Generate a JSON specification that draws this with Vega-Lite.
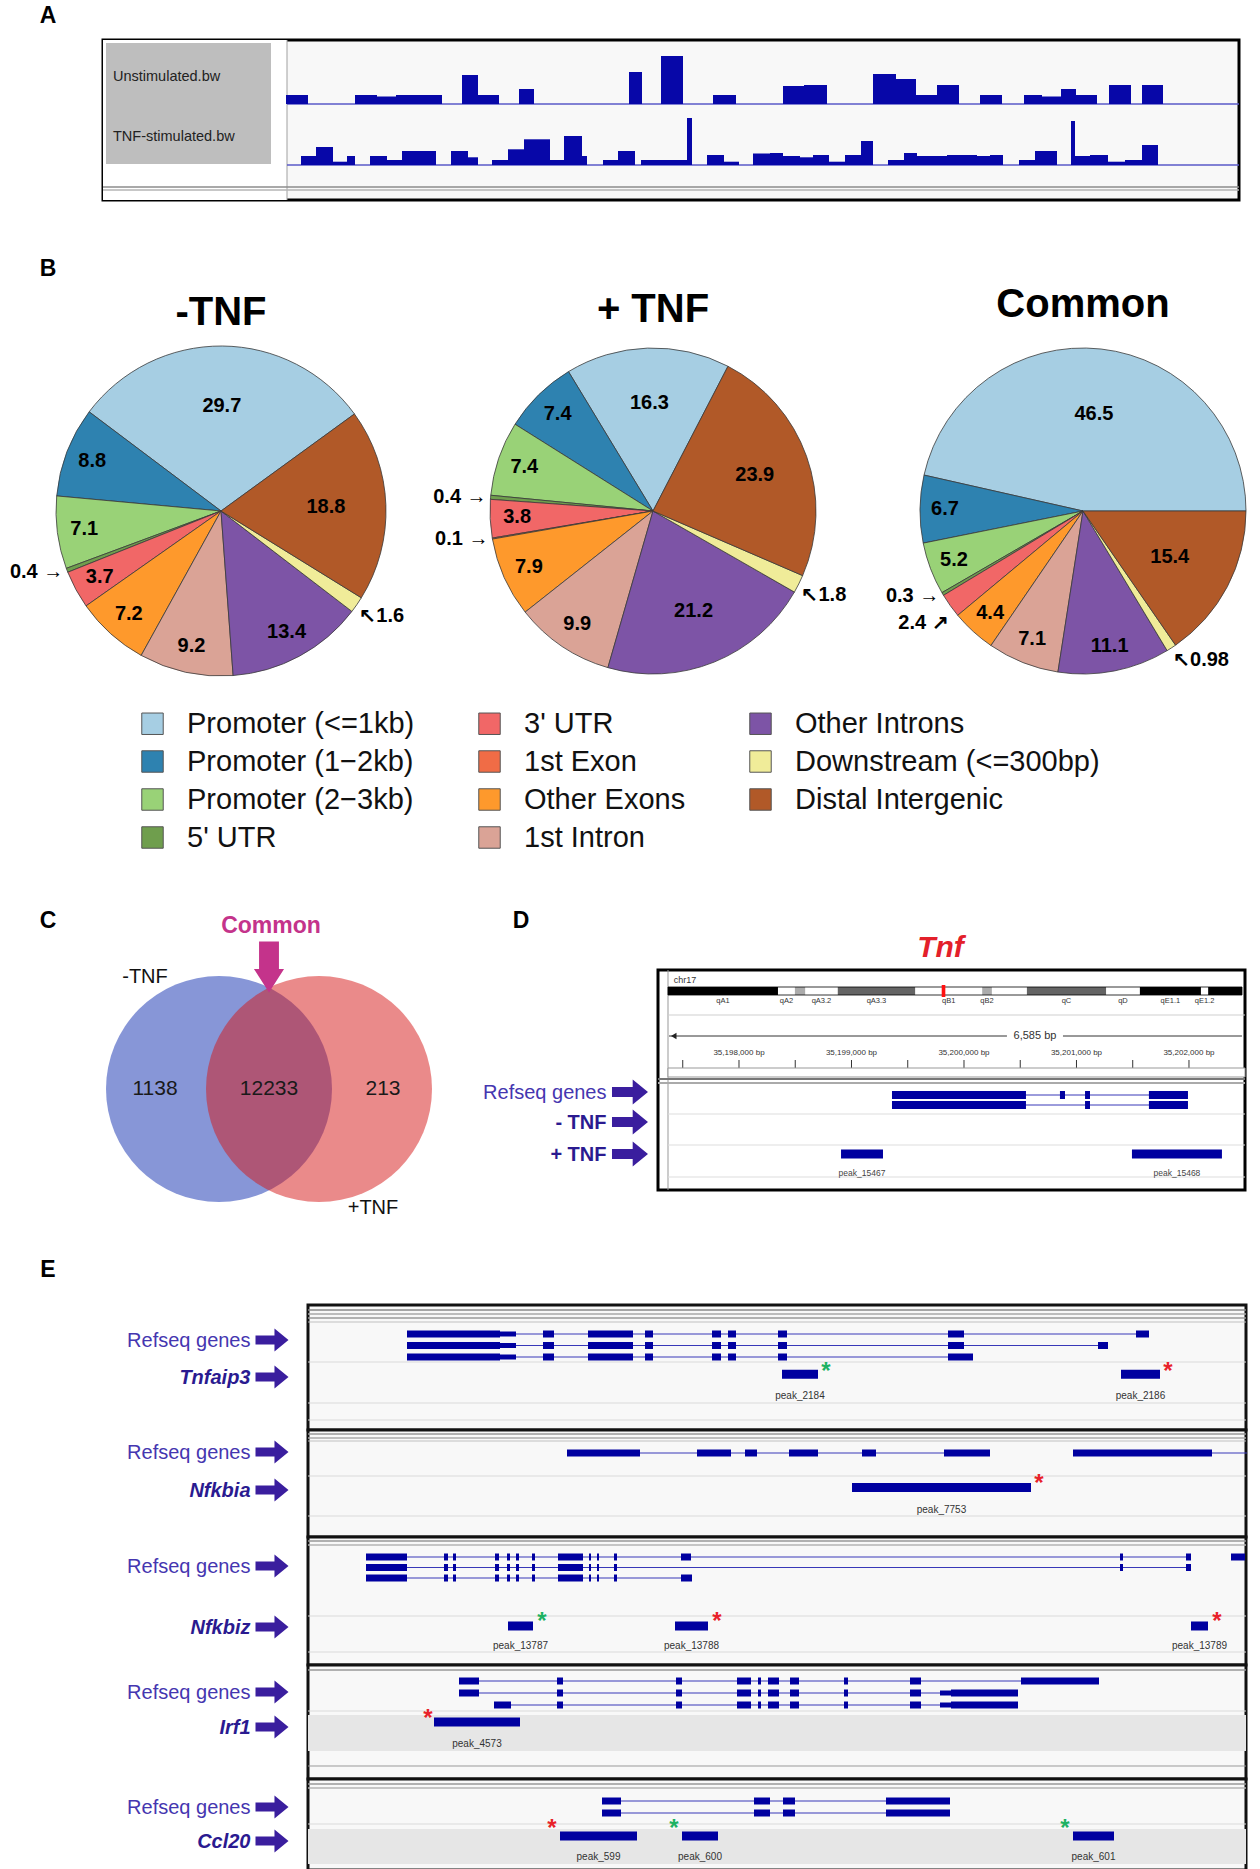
{
"$schema": "https://vega.github.io/schema/vega-lite/v6.json",
"padding": 0,
"background": "white",
"spacing": 0,
"config": {"view": {"stroke": null}, "font": "Liberation Sans", "axis": {"labelFont": "Liberation Sans"}, "legend": {"labelFont": "Liberation Sans"}, "title": {"font": "Liberation Sans"}, "text": {"font": "Liberation Sans"}},
"datasets": {
"one": [{}],
"tracks": [
{"t":"U","s":286,"e":308,"h":9},{"t":"U","s":355,"e":377,"h":9},{"t":"U","s":377,"e":396,"h":7.5},{"t":"U","s":396,"e":442,"h":9},{"t":"U","s":462,"e":478,"h":29},{"t":"U","s":478,"e":499,"h":9},{"t":"U","s":519,"e":534,"h":15},{"t":"U","s":629,"e":642,"h":32},{"t":"U","s":661,"e":683,"h":48},{"t":"U","s":713,"e":736,"h":9},{"t":"U","s":783,"e":804,"h":18},{"t":"U","s":804,"e":827,"h":19},{"t":"U","s":873,"e":896,"h":30},{"t":"U","s":896,"e":916,"h":25},{"t":"U","s":916,"e":937,"h":9},{"t":"U","s":937,"e":959,"h":19},{"t":"U","s":980,"e":1002,"h":9},{"t":"U","s":1024,"e":1042,"h":9},{"t":"U","s":1042,"e":1061,"h":7.5},{"t":"U","s":1061,"e":1076,"h":15},{"t":"U","s":1076,"e":1097,"h":9},{"t":"U","s":1109,"e":1131,"h":19},{"t":"U","s":1142,"e":1163,"h":19},
{"t":"T","s":301,"e":316,"h":9},{"t":"T","s":316,"e":333,"h":18},{"t":"T","s":333,"e":347,"h":3.3},{"t":"T","s":347,"e":355,"h":9},{"t":"T","s":370,"e":387,"h":9},{"t":"T","s":387,"e":402,"h":5},{"t":"T","s":402,"e":436,"h":14},{"t":"T","s":451,"e":468,"h":14},{"t":"T","s":468,"e":478,"h":7.7},{"t":"T","s":492,"e":508,"h":5},{"t":"T","s":508,"e":524,"h":15.7},{"t":"T","s":524,"e":550,"h":25.7},{"t":"T","s":550,"e":564,"h":5},{"t":"T","s":564,"e":582,"h":29},{"t":"T","s":582,"e":587,"h":9},{"t":"T","s":603,"e":618,"h":5},{"t":"T","s":618,"e":635,"h":14},{"t":"T","s":641,"e":687,"h":5},{"t":"T","s":687,"e":692,"h":47},{"t":"T","s":707,"e":724,"h":10},{"t":"T","s":724,"e":739,"h":3.3},{"t":"T","s":753,"e":770,"h":11.5},{"t":"T","s":770,"e":783,"h":12},{"t":"T","s":783,"e":800,"h":9},{"t":"T","s":800,"e":813,"h":7.7},{"t":"T","s":813,"e":829,"h":10},{"t":"T","s":829,"e":845,"h":3.3},{"t":"T","s":845,"e":861,"h":10},{"t":"T","s":861,"e":873,"h":24},{"t":"T","s":888,"e":904,"h":5},{"t":"T","s":904,"e":917,"h":12},{"t":"T","s":917,"e":947,"h":9},{"t":"T","s":947,"e":977,"h":10},{"t":"T","s":977,"e":990,"h":9},{"t":"T","s":990,"e":1003,"h":10},{"t":"T","s":1019,"e":1035,"h":5},{"t":"T","s":1035,"e":1057,"h":14},{"t":"T","s":1071,"e":1075,"h":44},{"t":"T","s":1075,"e":1090,"h":9},{"t":"T","s":1090,"e":1108,"h":10},{"t":"T","s":1108,"e":1125,"h":3.3},{"t":"T","s":1125,"e":1142,"h":5},{"t":"T","s":1142,"e":1158,"h":20}
],
"pies": [
{"set":"-TNF","cat":"Promoter (<=1kb)","idx":0,"v":29.7},{"set":"-TNF","cat":"Promoter (1−2kb)","idx":1,"v":8.8},{"set":"-TNF","cat":"Promoter (2−3kb)","idx":2,"v":7.1},{"set":"-TNF","cat":"5' UTR","idx":3,"v":0.4},{"set":"-TNF","cat":"3' UTR","idx":4,"v":3.7},{"set":"-TNF","cat":"Other Exons","idx":6,"v":7.2},{"set":"-TNF","cat":"1st Intron","idx":7,"v":9.2},{"set":"-TNF","cat":"Other Introns","idx":8,"v":13.4},{"set":"-TNF","cat":"Downstream (<=300bp)","idx":9,"v":1.6},{"set":"-TNF","cat":"Distal Intergenic","idx":10,"v":18.8},
{"set":"+TNF","cat":"Promoter (<=1kb)","idx":0,"v":16.3},{"set":"+TNF","cat":"Promoter (1−2kb)","idx":1,"v":7.4},{"set":"+TNF","cat":"Promoter (2−3kb)","idx":2,"v":7.4},{"set":"+TNF","cat":"5' UTR","idx":3,"v":0.4},{"set":"+TNF","cat":"3' UTR","idx":4,"v":3.8},{"set":"+TNF","cat":"1st Exon","idx":5,"v":0.1},{"set":"+TNF","cat":"Other Exons","idx":6,"v":7.9},{"set":"+TNF","cat":"1st Intron","idx":7,"v":9.9},{"set":"+TNF","cat":"Other Introns","idx":8,"v":21.2},{"set":"+TNF","cat":"Downstream (<=300bp)","idx":9,"v":1.8},{"set":"+TNF","cat":"Distal Intergenic","idx":10,"v":23.9},
{"set":"Common","cat":"Promoter (<=1kb)","idx":0,"v":46.5},{"set":"Common","cat":"Promoter (1−2kb)","idx":1,"v":6.7},{"set":"Common","cat":"Promoter (2−3kb)","idx":2,"v":5.2},{"set":"Common","cat":"5' UTR","idx":3,"v":0.3},{"set":"Common","cat":"3' UTR","idx":4,"v":2.4},{"set":"Common","cat":"Other Exons","idx":6,"v":4.4},{"set":"Common","cat":"1st Intron","idx":7,"v":7.1},{"set":"Common","cat":"Other Introns","idx":8,"v":11.1},{"set":"Common","cat":"Downstream (<=300bp)","idx":9,"v":0.98},{"set":"Common","cat":"Distal Intergenic","idx":10,"v":15.4}
],
"vsets": [{"set":"-TNF"},{"set":"+TNF"}],
"vcounts": [{"region":"-TNF only","n":1138},{"region":"Common","n":12233},{"region":"+TNF only","n":213}],
"ideo": [
{"band":"qA1","s":0,"e":18.2,"stain":"gpos100"},{"band":"qA2","s":18.2,"e":21.0,"stain":"gneg"},{"band":"qA3.1","s":21.0,"e":22.7,"stain":"gpos25"},{"band":"qA3.2","s":22.7,"e":28.1,"stain":"gneg"},{"band":"qA3.3","s":28.1,"e":40.9,"stain":"gpos75"},{"band":"qB1","s":40.9,"e":52.0,"stain":"gneg"},{"band":"qB2","s":52.0,"e":53.6,"stain":"gpos25"},{"band":"qB3","s":53.6,"e":59.4,"stain":"gneg"},{"band":"qC","s":59.4,"e":72.5,"stain":"gpos75"},{"band":"qD","s":72.5,"e":78.1,"stain":"gneg"},{"band":"qE1.1","s":78.1,"e":88.2,"stain":"gpos100"},{"band":"qE1.2","s":88.2,"e":89.4,"stain":"gneg"},{"band":"qE1.3","s":89.4,"e":95.0,"stain":"gpos100"}
],
"dticks": [{"pos":35197500},{"pos":35198000},{"pos":35198500},{"pos":35199000},{"pos":35199500},{"pos":35200000},{"pos":35200500},{"pos":35201000},{"pos":35201500},{"pos":35202000}],
"dgenes": [
{"row":1,"k":"line","s":35199360,"e":35201991},{"row":2,"k":"line","s":35199360,"e":35201991},
{"row":1,"k":"exon","s":35199360,"e":35200551},{"row":1,"k":"exon","s":35200853,"e":35200898},{"row":1,"k":"exon","s":35201076,"e":35201120},{"row":1,"k":"exon","s":35201644,"e":35201991},
{"row":2,"k":"exon","s":35199360,"e":35200551},{"row":2,"k":"exon","s":35201076,"e":35201120},{"row":2,"k":"exon","s":35201644,"e":35201991}
],
"dpeaks": [{"name":"peak_15467","s":35198907,"e":35199280},{"name":"peak_15468","s":35201493,"e":35202293}],
"egenes": [
{"g":"Tnfaip3","row":1,"k":"line","s":407,"e":1149},{"g":"Tnfaip3","row":2,"k":"line","s":407,"e":1108},{"g":"Tnfaip3","row":3,"k":"line","s":407,"e":973},
{"g":"Tnfaip3","row":1,"k":"exon","s":407,"e":500},{"g":"Tnfaip3","row":1,"k":"utr","s":500,"e":516},{"g":"Tnfaip3","row":1,"k":"exon","s":543,"e":554},{"g":"Tnfaip3","row":1,"k":"exon","s":588,"e":633},{"g":"Tnfaip3","row":1,"k":"exon","s":645,"e":653},{"g":"Tnfaip3","row":1,"k":"exon","s":712,"e":721},{"g":"Tnfaip3","row":1,"k":"exon","s":728,"e":736},{"g":"Tnfaip3","row":1,"k":"exon","s":778,"e":787},{"g":"Tnfaip3","row":1,"k":"exon","s":948,"e":964},{"g":"Tnfaip3","row":1,"k":"exon","s":1136,"e":1149},
{"g":"Tnfaip3","row":2,"k":"exon","s":407,"e":500},{"g":"Tnfaip3","row":2,"k":"utr","s":500,"e":516},{"g":"Tnfaip3","row":2,"k":"exon","s":543,"e":554},{"g":"Tnfaip3","row":2,"k":"exon","s":588,"e":633},{"g":"Tnfaip3","row":2,"k":"exon","s":645,"e":653},{"g":"Tnfaip3","row":2,"k":"exon","s":712,"e":721},{"g":"Tnfaip3","row":2,"k":"exon","s":728,"e":736},{"g":"Tnfaip3","row":2,"k":"exon","s":778,"e":787},{"g":"Tnfaip3","row":2,"k":"exon","s":948,"e":964},{"g":"Tnfaip3","row":2,"k":"exon","s":1098,"e":1108},
{"g":"Tnfaip3","row":3,"k":"exon","s":407,"e":500},{"g":"Tnfaip3","row":3,"k":"utr","s":500,"e":516},{"g":"Tnfaip3","row":3,"k":"exon","s":543,"e":554},{"g":"Tnfaip3","row":3,"k":"exon","s":588,"e":633},{"g":"Tnfaip3","row":3,"k":"exon","s":645,"e":653},{"g":"Tnfaip3","row":3,"k":"exon","s":712,"e":721},{"g":"Tnfaip3","row":3,"k":"exon","s":728,"e":736},{"g":"Tnfaip3","row":3,"k":"exon","s":778,"e":787},{"g":"Tnfaip3","row":3,"k":"exon","s":948,"e":973},
{"g":"Nfkbia","row":1,"k":"line","s":567,"e":990},{"g":"Nfkbia","row":1,"k":"line","s":1073,"e":1247},
{"g":"Nfkbia","row":1,"k":"exon","s":567,"e":640},{"g":"Nfkbia","row":1,"k":"exon","s":697,"e":731},{"g":"Nfkbia","row":1,"k":"exon","s":745,"e":757},{"g":"Nfkbia","row":1,"k":"exon","s":789,"e":818},{"g":"Nfkbia","row":1,"k":"exon","s":862,"e":876},{"g":"Nfkbia","row":1,"k":"exon","s":944,"e":990},{"g":"Nfkbia","row":1,"k":"exon","s":1073,"e":1212},
{"g":"Nfkbiz","row":1,"k":"line","s":366,"e":1191},{"g":"Nfkbiz","row":2,"k":"line","s":366,"e":1191},{"g":"Nfkbiz","row":3,"k":"line","s":366,"e":692},
{"g":"Nfkbiz","row":1,"k":"exon","s":366,"e":407},{"g":"Nfkbiz","row":1,"k":"exon","s":444,"e":448},{"g":"Nfkbiz","row":1,"k":"exon","s":453,"e":456},{"g":"Nfkbiz","row":1,"k":"exon","s":495,"e":499},{"g":"Nfkbiz","row":1,"k":"exon","s":507,"e":510},{"g":"Nfkbiz","row":1,"k":"exon","s":516,"e":519},{"g":"Nfkbiz","row":1,"k":"exon","s":532,"e":535},{"g":"Nfkbiz","row":1,"k":"exon","s":558,"e":583},{"g":"Nfkbiz","row":1,"k":"exon","s":589,"e":591},{"g":"Nfkbiz","row":1,"k":"exon","s":597,"e":599},{"g":"Nfkbiz","row":1,"k":"exon","s":614,"e":617},{"g":"Nfkbiz","row":1,"k":"exon","s":681,"e":691},{"g":"Nfkbiz","row":1,"k":"exon","s":1120,"e":1123},{"g":"Nfkbiz","row":1,"k":"exon","s":1186,"e":1191},{"g":"Nfkbiz","row":1,"k":"exon","s":1231,"e":1245},
{"g":"Nfkbiz","row":2,"k":"exon","s":366,"e":407},{"g":"Nfkbiz","row":2,"k":"exon","s":444,"e":448},{"g":"Nfkbiz","row":2,"k":"exon","s":453,"e":456},{"g":"Nfkbiz","row":2,"k":"exon","s":495,"e":499},{"g":"Nfkbiz","row":2,"k":"exon","s":507,"e":510},{"g":"Nfkbiz","row":2,"k":"exon","s":516,"e":519},{"g":"Nfkbiz","row":2,"k":"exon","s":532,"e":535},{"g":"Nfkbiz","row":2,"k":"exon","s":558,"e":583},{"g":"Nfkbiz","row":2,"k":"exon","s":589,"e":591},{"g":"Nfkbiz","row":2,"k":"exon","s":597,"e":599},{"g":"Nfkbiz","row":2,"k":"exon","s":614,"e":617},{"g":"Nfkbiz","row":2,"k":"exon","s":1120,"e":1123},{"g":"Nfkbiz","row":2,"k":"exon","s":1186,"e":1191},
{"g":"Nfkbiz","row":3,"k":"exon","s":366,"e":407},{"g":"Nfkbiz","row":3,"k":"exon","s":444,"e":448},{"g":"Nfkbiz","row":3,"k":"exon","s":453,"e":456},{"g":"Nfkbiz","row":3,"k":"exon","s":495,"e":499},{"g":"Nfkbiz","row":3,"k":"exon","s":507,"e":510},{"g":"Nfkbiz","row":3,"k":"exon","s":516,"e":519},{"g":"Nfkbiz","row":3,"k":"exon","s":532,"e":535},{"g":"Nfkbiz","row":3,"k":"exon","s":558,"e":583},{"g":"Nfkbiz","row":3,"k":"exon","s":589,"e":591},{"g":"Nfkbiz","row":3,"k":"exon","s":597,"e":599},{"g":"Nfkbiz","row":3,"k":"exon","s":614,"e":617},{"g":"Nfkbiz","row":3,"k":"exon","s":681,"e":692},
{"g":"Irf1","row":1,"k":"line","s":459,"e":1021},{"g":"Irf1","row":2,"k":"line","s":459,"e":940},{"g":"Irf1","row":3,"k":"line","s":494,"e":940},
{"g":"Irf1","row":1,"k":"exon","s":459,"e":479},{"g":"Irf1","row":1,"k":"exon","s":557,"e":563},{"g":"Irf1","row":1,"k":"exon","s":676,"e":682},{"g":"Irf1","row":1,"k":"exon","s":737,"e":751},{"g":"Irf1","row":1,"k":"exon","s":758,"e":761},{"g":"Irf1","row":1,"k":"exon","s":768,"e":779},{"g":"Irf1","row":1,"k":"exon","s":790,"e":799},{"g":"Irf1","row":1,"k":"exon","s":844,"e":848},{"g":"Irf1","row":1,"k":"exon","s":910,"e":921},{"g":"Irf1","row":1,"k":"exon","s":1021,"e":1099},
{"g":"Irf1","row":2,"k":"exon","s":459,"e":479},{"g":"Irf1","row":2,"k":"exon","s":557,"e":563},{"g":"Irf1","row":2,"k":"exon","s":676,"e":682},{"g":"Irf1","row":2,"k":"exon","s":737,"e":751},{"g":"Irf1","row":2,"k":"exon","s":758,"e":761},{"g":"Irf1","row":2,"k":"exon","s":768,"e":779},{"g":"Irf1","row":2,"k":"exon","s":790,"e":799},{"g":"Irf1","row":2,"k":"exon","s":844,"e":848},{"g":"Irf1","row":2,"k":"exon","s":910,"e":921},{"g":"Irf1","row":2,"k":"utr","s":940,"e":951},{"g":"Irf1","row":2,"k":"exon","s":951,"e":1018},
{"g":"Irf1","row":3,"k":"exon","s":494,"e":511},{"g":"Irf1","row":3,"k":"exon","s":557,"e":563},{"g":"Irf1","row":3,"k":"exon","s":676,"e":682},{"g":"Irf1","row":3,"k":"exon","s":737,"e":751},{"g":"Irf1","row":3,"k":"exon","s":758,"e":761},{"g":"Irf1","row":3,"k":"exon","s":768,"e":779},{"g":"Irf1","row":3,"k":"exon","s":790,"e":799},{"g":"Irf1","row":3,"k":"exon","s":844,"e":848},{"g":"Irf1","row":3,"k":"exon","s":910,"e":921},{"g":"Irf1","row":3,"k":"utr","s":940,"e":951},{"g":"Irf1","row":3,"k":"exon","s":951,"e":1018},
{"g":"Ccl20","row":1,"k":"line","s":602,"e":886},{"g":"Ccl20","row":2,"k":"line","s":602,"e":886},
{"g":"Ccl20","row":1,"k":"exon","s":602,"e":621},{"g":"Ccl20","row":1,"k":"exon","s":754,"e":770},{"g":"Ccl20","row":1,"k":"exon","s":783,"e":795},{"g":"Ccl20","row":1,"k":"exon","s":886,"e":950},
{"g":"Ccl20","row":2,"k":"exon","s":602,"e":621},{"g":"Ccl20","row":2,"k":"exon","s":754,"e":770},{"g":"Ccl20","row":2,"k":"exon","s":783,"e":795},{"g":"Ccl20","row":2,"k":"exon","s":886,"e":950}
],
"epeaks": [
{"g":"Tnfaip3","name":"peak_2184","s":782,"e":818,"tag":"g","at":"e"},{"g":"Tnfaip3","name":"peak_2186","s":1121,"e":1160,"tag":"r","at":"e"},
{"g":"Nfkbia","name":"peak_7753","s":852,"e":1031,"tag":"r","at":"e"},
{"g":"Nfkbiz","name":"peak_13787","s":508,"e":533,"tag":"g","at":"e"},{"g":"Nfkbiz","name":"peak_13788","s":675,"e":708,"tag":"r","at":"e"},{"g":"Nfkbiz","name":"peak_13789","s":1191,"e":1208,"tag":"r","at":"e"},
{"g":"Irf1","name":"peak_4573","s":434,"e":520,"tag":"r","at":"s"},
{"g":"Ccl20","name":"peak_599","s":560,"e":637,"tag":"r","at":"s"},{"g":"Ccl20","name":"peak_600","s":682,"e":718,"tag":"g","at":"s"},{"g":"Ccl20","name":"peak_601","s":1073,"e":1114,"tag":"g","at":"s"}
]
},
"vconcat": [
{"width": 1, "height": 2.5, "data": {"values": []}, "mark": "point"},
{"hconcat": [
  {"width": 103, "height": 1, "data": {"values": []}, "mark": "point"},
  {"width": 1136, "height": 160,
   "view": {"stroke": "black", "strokeWidth": 3, "fill": "#F8F8F8"},
   "layer": [
    {"data": {"name": "one"}, "mark": {"type": "rect", "color": "white"}, "encoding": {"x": {"datum": 103, "type": "quantitative", "scale": {"domain": [103, 1239], "nice": false, "zero": false}, "axis": null}, "x2": {"datum": 287}, "y": {"datum": 0, "type": "quantitative", "scale": {"domain": [0, 160], "nice": false, "zero": false}, "axis": null}, "y2": {"datum": 160}}},
    {"data": {"name": "one"}, "mark": {"type": "rect", "color": "#BEBEBE"}, "encoding": {"x": {"datum": 106, "type": "quantitative"}, "x2": {"datum": 271}, "y": {"datum": 36, "type": "quantitative"}, "y2": {"datum": 157}}},
    {"data": {"name": "one"}, "mark": {"type": "rule", "color": "#A0A0A0", "strokeWidth": 1}, "encoding": {"x": {"datum": 287, "type": "quantitative"}, "y": {"datum": 0, "type": "quantitative"}, "y2": {"datum": 160}}},
    {"data": {"name": "one"}, "mark": {"type": "rule", "color": "#8C8C8C", "strokeWidth": 1.5}, "encoding": {"x": {"datum": 103, "type": "quantitative"}, "x2": {"datum": 1239}, "y": {"datum": 13, "type": "quantitative"}}},
    {"data": {"name": "one"}, "mark": {"type": "rule", "color": "#B5B5B5", "strokeWidth": 1.5}, "encoding": {"x": {"datum": 103, "type": "quantitative"}, "x2": {"datum": 1239}, "y": {"datum": 10, "type": "quantitative"}}},
    {"data": {"name": "one"}, "mark": {"type": "rule", "color": "#5A5AC8", "strokeWidth": 1.5}, "encoding": {"x": {"datum": 287, "type": "quantitative"}, "x2": {"datum": 1239}, "y": {"datum": 96, "type": "quantitative"}}},
    {"data": {"name": "one"}, "mark": {"type": "rule", "color": "#5A5AC8", "strokeWidth": 1.5}, "encoding": {"x": {"datum": 287, "type": "quantitative"}, "x2": {"datum": 1239}, "y": {"datum": 35, "type": "quantitative"}}},
    {"data": {"name": "tracks"}, "transform": [{"calculate": "datum.t === 'U' ? 96 : 35", "as": "base"}, {"calculate": "datum.base + datum.h", "as": "top"}],
     "mark": {"type": "rect", "color": "#0707A8"},
     "encoding": {"x": {"field": "s", "type": "quantitative"}, "x2": {"field": "e"}, "y": {"field": "top", "type": "quantitative"}, "y2": {"field": "base"}}},
    {"data": {"name": "one"}, "mark": {"type": "text", "text": "Unstimulated.bw", "align": "left", "fontSize": 14.5, "color": "#222222"}, "encoding": {"x": {"datum": 113, "type": "quantitative"}, "y": {"datum": 123, "type": "quantitative"}}},
    {"data": {"name": "one"}, "mark": {"type": "text", "text": "TNF-stimulated.bw", "align": "left", "fontSize": 14.5, "color": "#222222"}, "encoding": {"x": {"datum": 113, "type": "quantitative"}, "y": {"datum": 63, "type": "quantitative"}}},
    {"data": {"values": [{"t": "A"}]}, "mark": {"type": "text", "fontSize": 23, "fontWeight": "bold", "color": "black", "dx": -623, "dy": -104}, "encoding": {"text": {"field": "t"}}},
    {"data": {"values": [{"t": "B"}]}, "mark": {"type": "text", "fontSize": 23, "fontWeight": "bold", "color": "black", "dx": -623, "dy": 149}, "encoding": {"text": {"field": "t"}}}
   ]}
 ], "spacing": 0, "bounds": "flush"},
{"width": 1, "height": 2, "data": {"values": []}, "mark": "point"},
{"hconcat": [
  {"width": 442, "height": 340,
   "title": {"text": "-TNF", "fontSize": 40, "fontWeight": "bold", "baseline": "alphabetic", "frame": "group", "offset": -24, "anchor": "middle", "color": "black"},
   "data": {"name": "pies"},
   "transform": [{"filter": "datum.set === '-TNF'"}, {"stack": "v", "groupby": [], "sort": [{"field": "idx", "order": "ascending"}], "as": ["s0", "s1"]}, {"calculate": "(datum.s0 + datum.s1) / 2", "as": "mid"}],
   "layer": [
    {"mark": {"type": "arc", "outerRadius": 165, "stroke": "#3a3a3a", "strokeWidth": 0.8},
     "encoding": {"theta": {"field": "s0", "type": "quantitative", "stack": null, "scale": {"domain": [0, 99.9], "range": [0.942, -5.341], "nice": false, "zero": false}}, "theta2": {"field": "s1"},
      "color": {"field": "cat", "type": "nominal", "scale": {"domain": ["Promoter (<=1kb)", "Promoter (1−2kb)", "Promoter (2−3kb)", "5' UTR", "3' UTR", "1st Exon", "Other Exons", "1st Intron", "Other Introns", "Downstream (<=300bp)", "Distal Intergenic"], "range": ["#A6CEE3", "#2E82B0", "#99D277", "#6F9E4D", "#F16767", "#F06C46", "#FE992C", "#DAA396", "#7D54A6", "#F0EC99", "#B15928"]},
       "legend": {"orient": "none", "legendX": 138, "legendY": 709, "columns": 3, "title": null, "symbolType": "square", "symbolSize": 460, "symbolStrokeColor": "#555555", "symbolStrokeWidth": 1, "labelFontSize": 29, "labelColor": "#111111", "labelOffset": 20, "labelLimit": 600, "rowPadding": 8, "columnPadding": 60}}}},
    {"transform": [{"filter": "datum.v >= 15"}], "mark": {"type": "text", "radius": 105, "fontSize": 20, "fontWeight": "bold"}, "encoding": {"theta": {"field": "mid", "type": "quantitative", "stack": null}, "text": {"field": "v", "type": "quantitative"}}},
    {"transform": [{"filter": "datum.v >= 3 && datum.v < 15"}], "mark": {"type": "text", "radius": 138, "fontSize": 20, "fontWeight": "bold"}, "encoding": {"theta": {"field": "mid", "type": "quantitative", "stack": null}, "text": {"field": "v", "type": "quantitative"}}},
    {"transform": [{"filter": "datum.v < 3 && datum.idx !== 9 && datum.idx !== 4"}, {"calculate": "datum.v + ' →'", "as": "lab"}], "mark": {"type": "text", "radius": 169, "align": "right", "fontSize": 20, "fontWeight": "bold"}, "encoding": {"theta": {"field": "mid", "type": "quantitative", "stack": null}, "text": {"field": "lab"}}},
    {"transform": [{"filter": "datum.idx === 9"}, {"calculate": "'↖' + datum.v", "as": "lab"}], "mark": {"type": "text", "radius": 168, "align": "left", "baseline": "top", "fontSize": 20, "fontWeight": "bold"}, "encoding": {"theta": {"field": "mid", "type": "quantitative", "stack": null}, "text": {"field": "lab"}}}
   ]},
  {"width": 422, "height": 340,
   "title": {"text": "+ TNF", "fontSize": 40, "fontWeight": "bold", "baseline": "alphabetic", "frame": "group", "offset": -21, "anchor": "middle", "color": "black"},
   "data": {"name": "pies"},
   "transform": [{"filter": "datum.set === '+TNF'"}, {"stack": "v", "groupby": [], "sort": [{"field": "idx", "order": "ascending"}], "as": ["s0", "s1"]}, {"calculate": "(datum.s0 + datum.s1) / 2", "as": "mid"}],
   "layer": [
    {"mark": {"type": "arc", "outerRadius": 163, "stroke": "#3a3a3a", "strokeWidth": 0.8},
     "encoding": {"theta": {"field": "s0", "type": "quantitative", "stack": null, "scale": {"domain": [0, 100.1], "range": [0.478, -5.805], "nice": false, "zero": false}}, "theta2": {"field": "s1"},
      "color": {"field": "cat", "type": "nominal", "scale": {"domain": ["Promoter (<=1kb)", "Promoter (1−2kb)", "Promoter (2−3kb)", "5' UTR", "3' UTR", "1st Exon", "Other Exons", "1st Intron", "Other Introns", "Downstream (<=300bp)", "Distal Intergenic"], "range": ["#A6CEE3", "#2E82B0", "#99D277", "#6F9E4D", "#F16767", "#F06C46", "#FE992C", "#DAA396", "#7D54A6", "#F0EC99", "#B15928"]},
       "legend": {"orient": "none", "legendX": 138, "legendY": 709, "columns": 3, "title": null, "symbolType": "square", "symbolSize": 460, "symbolStrokeColor": "#555555", "symbolStrokeWidth": 1, "labelFontSize": 29, "labelColor": "#111111", "labelOffset": 20, "labelLimit": 600, "rowPadding": 8, "columnPadding": 60}}}},
    {"transform": [{"filter": "datum.v >= 15"}], "mark": {"type": "text", "radius": 108, "fontSize": 20, "fontWeight": "bold"}, "encoding": {"theta": {"field": "mid", "type": "quantitative", "stack": null}, "text": {"field": "v", "type": "quantitative"}}},
    {"transform": [{"filter": "datum.v >= 3 && datum.v < 15"}], "mark": {"type": "text", "radius": 136, "fontSize": 20, "fontWeight": "bold"}, "encoding": {"theta": {"field": "mid", "type": "quantitative", "stack": null}, "text": {"field": "v", "type": "quantitative"}}},
    {"transform": [{"filter": "datum.v < 3 && datum.idx !== 9 && datum.idx !== 4"}, {"calculate": "datum.v + ' →'", "as": "lab"}], "mark": {"type": "text", "radius": 167, "align": "right", "fontSize": 20, "fontWeight": "bold"}, "encoding": {"theta": {"field": "mid", "type": "quantitative", "stack": null}, "text": {"field": "lab"}}},
    {"transform": [{"filter": "datum.idx === 9"}, {"calculate": "'↖' + datum.v", "as": "lab"}], "mark": {"type": "text", "radius": 166, "align": "left", "baseline": "top", "fontSize": 20, "fontWeight": "bold"}, "encoding": {"theta": {"field": "mid", "type": "quantitative", "stack": null}, "text": {"field": "lab"}}}
   ]},
  {"width": 49, "height": 1, "data": {"values": []}, "mark": "point"},
  {"width": 340, "height": 340,
   "title": {"text": "Common", "fontSize": 40, "fontWeight": "bold", "baseline": "alphabetic", "frame": "group", "offset": -16, "anchor": "middle", "color": "black"},
   "data": {"name": "pies"},
   "transform": [{"filter": "datum.set === 'Common'"}, {"stack": "v", "groupby": [], "sort": [{"field": "idx", "order": "ascending"}], "as": ["s0", "s1"]}, {"calculate": "(datum.s0 + datum.s1) / 2", "as": "mid"}],
   "layer": [
    {"mark": {"type": "arc", "outerRadius": 163, "stroke": "#3a3a3a", "strokeWidth": 0.8},
     "encoding": {"theta": {"field": "s0", "type": "quantitative", "stack": null, "scale": {"domain": [0, 100.08], "range": [1.5708, -4.7124], "nice": false, "zero": false}}, "theta2": {"field": "s1"},
      "color": {"field": "cat", "type": "nominal", "scale": {"domain": ["Promoter (<=1kb)", "Promoter (1−2kb)", "Promoter (2−3kb)", "5' UTR", "3' UTR", "1st Exon", "Other Exons", "1st Intron", "Other Introns", "Downstream (<=300bp)", "Distal Intergenic"], "range": ["#A6CEE3", "#2E82B0", "#99D277", "#6F9E4D", "#F16767", "#F06C46", "#FE992C", "#DAA396", "#7D54A6", "#F0EC99", "#B15928"]},
       "legend": {"orient": "none", "legendX": 138, "legendY": 709, "columns": 3, "title": null, "symbolType": "square", "symbolSize": 460, "symbolStrokeColor": "#555555", "symbolStrokeWidth": 1, "labelFontSize": 29, "labelColor": "#111111", "labelOffset": 20, "labelLimit": 600, "rowPadding": 8, "columnPadding": 60}}}},
    {"transform": [{"filter": "datum.v >= 15"}], "mark": {"type": "text", "radius": 98, "fontSize": 20, "fontWeight": "bold"}, "encoding": {"theta": {"field": "mid", "type": "quantitative", "stack": null}, "text": {"field": "v", "type": "quantitative"}}},
    {"transform": [{"filter": "datum.v >= 3 && datum.v < 15"}], "mark": {"type": "text", "radius": 138, "fontSize": 20, "fontWeight": "bold"}, "encoding": {"theta": {"field": "mid", "type": "quantitative", "stack": null}, "text": {"field": "v", "type": "quantitative"}}},
    {"transform": [{"filter": "datum.v < 3 && datum.idx !== 9 && datum.idx !== 4"}, {"calculate": "datum.v + ' →'", "as": "lab"}], "mark": {"type": "text", "radius": 167, "align": "right", "fontSize": 20, "fontWeight": "bold"}, "encoding": {"theta": {"field": "mid", "type": "quantitative", "stack": null}, "text": {"field": "lab"}}},
    {"transform": [{"filter": "datum.v < 3 && datum.idx === 4"}, {"calculate": "datum.v + ' ↗'", "as": "lab"}], "mark": {"type": "text", "radius": 165, "align": "right", "baseline": "top", "dy": 6, "fontSize": 20, "fontWeight": "bold"}, "encoding": {"theta": {"field": "mid", "type": "quantitative", "stack": null}, "text": {"field": "lab"}}},
    {"transform": [{"filter": "datum.idx === 9"}, {"calculate": "'↖' + datum.v", "as": "lab"}], "mark": {"type": "text", "radius": 166, "align": "left", "baseline": "top", "fontSize": 20, "fontWeight": "bold"}, "encoding": {"theta": {"field": "mid", "type": "quantitative", "stack": null}, "text": {"field": "lab"}}}
   ]}
 ], "spacing": 0, "bounds": "flush"},
{"width": 1, "height": 228.5, "data": {"values": []}, "mark": "point"},
{"hconcat": [
  {"width": 460, "height": 238,
   "resolve": {"scale": {"x": "independent"}},
   "layer": [
    {"data": {"name": "vsets"}, "layer": [
      {"transform": [{"filter": "datum.set === '-TNF'"}], "mark": {"type": "point", "filled": true, "size": 51076, "color": "#0F2DB0", "opacity": 0.5, "strokeWidth": 0}, "encoding": {"x": {"field": "set", "type": "nominal", "scale": {"type": "point", "domain": ["-TNF", "+TNF"], "range": [219, 319], "padding": 0}, "axis": null}}},
      {"transform": [{"filter": "datum.set === '+TNF'"}], "mark": {"type": "point", "filled": true, "size": 51076, "color": "#D51515", "opacity": 0.5, "strokeWidth": 0}, "encoding": {"x": {"field": "set", "type": "nominal"}}},
      {"transform": [{"filter": "datum.set === '-TNF'"}], "mark": {"type": "text", "fontSize": 20, "dx": -74, "dy": -112, "color": "#111111"}, "encoding": {"x": {"field": "set", "type": "nominal"}, "text": {"field": "set"}}},
      {"transform": [{"filter": "datum.set === '+TNF'"}], "mark": {"type": "text", "fontSize": 20, "dx": 54, "dy": 119, "color": "#111111"}, "encoding": {"x": {"field": "set", "type": "nominal"}, "text": {"field": "set"}}}
    ]},
    {"data": {"name": "vcounts"}, "layer": [
      {"mark": {"type": "text", "fontSize": 21, "color": "#1A1A1A"}, "encoding": {"x": {"field": "region", "type": "nominal", "scale": {"type": "point", "domain": ["-TNF only", "Common", "+TNF only"], "range": [155, 383], "padding": 0}, "axis": null}, "text": {"field": "n", "type": "quantitative", "format": "d"}}},
      {"transform": [{"filter": "datum.region === 'Common'"}], "mark": {"type": "text", "fontSize": 23, "fontWeight": "bold", "color": "#C4338B", "dx": 2, "dy": -163}, "encoding": {"x": {"field": "region", "type": "nominal"}, "text": {"field": "region"}}},
      {"transform": [{"filter": "datum.region === 'Common'"}], "mark": {"type": "point", "shape": "M-0.39,-1L0.39,-1L0.39,0.08L0.59,0.08L0,1L-0.59,0.08L-0.39,0.08Z", "size": 2601, "filled": true, "color": "#C4338B", "opacity": 1, "strokeWidth": 0, "yOffset": -122}, "encoding": {"x": {"field": "region", "type": "nominal"}}}
    ]},
    {"data": {"values": [{"t": "C"}]}, "mark": {"type": "text", "fontSize": 23, "fontWeight": "bold", "color": "black", "dx": -182, "dy": -168}, "encoding": {"text": {"field": "t"}}},
    {"data": {"values": [{"t": "D"}]}, "mark": {"type": "text", "fontSize": 23, "fontWeight": "bold", "color": "black", "dx": 291, "dy": -168}, "encoding": {"text": {"field": "t"}}}
   ]},
  {"width": 198, "height": 252, "data": {"values": []}, "mark": "point"},
  {"width": 587, "height": 220,
   "view": {"stroke": "black", "strokeWidth": 3, "fill": "white"},
   "title": {"text": "Tnf", "color": "#E3202A", "fontSize": 30, "fontWeight": "bold", "fontStyle": "italic", "anchor": "middle", "dx": -11, "frame": "group", "offset": -17.5, "baseline": "alphabetic"},
   "resolve": {"scale": {"x": "independent", "y": "independent"}},
   "layer": [
    {"layer": [
      {"data": {"name": "one"}, "mark": {"type": "rule", "color": "#999999", "strokeWidth": 1},
       "encoding": {"x": {"datum": 35197369, "type": "quantitative", "scale": {"domain": [35197280, 35202498], "nice": false, "zero": false}, "axis": null},
        "y": {"datum": 0, "type": "quantitative", "scale": {"domain": [0, 220], "reverse": true, "nice": false, "zero": false},
         "axis": {"values": [122, 152, 184], "labelExpr": "datum.value < 130 ? 'Refseq genes' : (datum.value < 170 ? '- TNF' : '+ TNF')", "labelFontSize": 20, "labelColor": {"condition": {"test": "datum.value > 130", "value": "#2A1A90"}, "value": "#4536B0"}, "labelPadding": 52, "labelFontWeight": {"condition": {"test": "datum.value > 130", "value": "bold"}, "value": "normal"}, "title": null, "domain": false, "ticks": false, "grid": false}},
        "y2": {"datum": 220}}},
      {"data": {"name": "one"}, "mark": {"type": "point", "shape": "M-1,-0.28L0.15,-0.28L0.15,-0.7L1,0L0.15,0.7L0.15,0.28L-1,0.28Z", "size": 1296, "filled": true, "color": "#3A1E9E", "opacity": 1, "strokeWidth": 0}, "encoding": {"x": {"datum": 35197031, "type": "quantitative"}, "y": {"datum": 122, "type": "quantitative"}}},
      {"data": {"name": "one"}, "mark": {"type": "point", "shape": "M-1,-0.28L0.15,-0.28L0.15,-0.7L1,0L0.15,0.7L0.15,0.28L-1,0.28Z", "size": 1296, "filled": true, "color": "#3A1E9E", "opacity": 1, "strokeWidth": 0}, "encoding": {"x": {"datum": 35197031, "type": "quantitative"}, "y": {"datum": 152, "type": "quantitative"}}},
      {"data": {"name": "one"}, "mark": {"type": "point", "shape": "M-1,-0.28L0.15,-0.28L0.15,-0.7L1,0L0.15,0.7L0.15,0.28L-1,0.28Z", "size": 1296, "filled": true, "color": "#3A1E9E", "opacity": 1, "strokeWidth": 0}, "encoding": {"x": {"datum": 35197031, "type": "quantitative"}, "y": {"datum": 184, "type": "quantitative"}}},
      {"data": {"name": "one"}, "mark": {"type": "text", "text": "chr17", "fontSize": 9, "align": "left", "color": "#333333"}, "encoding": {"x": {"datum": 35197420, "type": "quantitative"}, "y": {"datum": 10, "type": "quantitative"}}},
      {"data": {"name": "one"}, "mark": {"type": "rule", "color": "#CFCFCF", "strokeWidth": 1}, "encoding": {"x": {"datum": 35197369, "type": "quantitative"}, "x2": {"datum": 35202498}, "y": {"datum": 45, "type": "quantitative"}}},
      {"data": {"name": "one"}, "mark": {"type": "rule", "color": "#333333", "strokeWidth": 1}, "encoding": {"x": {"datum": 35197378, "type": "quantitative"}, "x2": {"datum": 35200382}, "y": {"datum": 66, "type": "quantitative"}}},
      {"data": {"name": "one"}, "mark": {"type": "rule", "color": "#333333", "strokeWidth": 1}, "encoding": {"x": {"datum": 35200880, "type": "quantitative"}, "x2": {"datum": 35202471}, "y": {"datum": 66, "type": "quantitative"}}},
      {"data": {"name": "one"}, "mark": {"type": "point", "shape": "triangle-left", "size": 40, "filled": true, "color": "#222222", "opacity": 1}, "encoding": {"x": {"datum": 35197420, "type": "quantitative"}, "y": {"datum": 66, "type": "quantitative"}}},
      {"data": {"name": "one"}, "mark": {"type": "text", "text": "6,585 bp", "fontSize": 11, "color": "#333333"}, "encoding": {"x": {"datum": 35200631, "type": "quantitative"}, "y": {"datum": 66, "type": "quantitative"}}},
      {"data": {"name": "dticks"}, "mark": {"type": "rule", "color": "#333333", "strokeWidth": 1}, "encoding": {"x": {"field": "pos", "type": "quantitative"}, "y": {"datum": 90, "type": "quantitative"}, "y2": {"datum": 98}}},
      {"data": {"name": "dticks"}, "transform": [{"filter": "datum.pos % 1000 === 0"}, {"calculate": "format(datum.pos, ',') + ' bp'", "as": "lab"}], "mark": {"type": "text", "fontSize": 8, "color": "#333333"}, "encoding": {"x": {"field": "pos", "type": "quantitative"}, "y": {"datum": 83, "type": "quantitative"}, "text": {"field": "lab"}}},
      {"data": {"name": "one"}, "mark": {"type": "rect", "fill": "white", "stroke": "#999999", "strokeWidth": 1}, "encoding": {"x": {"datum": 35197369, "type": "quantitative"}, "x2": {"datum": 35202498}, "y": {"datum": 98, "type": "quantitative"}, "y2": {"datum": 107}}},
      {"data": {"name": "one"}, "mark": {"type": "rule", "color": "#777777", "strokeWidth": 2}, "encoding": {"x": {"datum": 35197280, "type": "quantitative"}, "x2": {"datum": 35202498}, "y": {"datum": 109, "type": "quantitative"}}},
      {"data": {"name": "one"}, "mark": {"type": "rule", "color": "#AAAAAA", "strokeWidth": 2}, "encoding": {"x": {"datum": 35197280, "type": "quantitative"}, "x2": {"datum": 35202498}, "y": {"datum": 113, "type": "quantitative"}}},
      {"data": {"name": "one"}, "mark": {"type": "rule", "color": "#DDDDDD", "strokeWidth": 1}, "encoding": {"x": {"datum": 35197369, "type": "quantitative"}, "x2": {"datum": 35202498}, "y": {"datum": 144, "type": "quantitative"}}},
      {"data": {"name": "one"}, "mark": {"type": "rule", "color": "#DDDDDD", "strokeWidth": 1}, "encoding": {"x": {"datum": 35197369, "type": "quantitative"}, "x2": {"datum": 35202498}, "y": {"datum": 175, "type": "quantitative"}}},
      {"data": {"name": "one"}, "mark": {"type": "rule", "color": "#DDDDDD", "strokeWidth": 1}, "encoding": {"x": {"datum": 35197369, "type": "quantitative"}, "x2": {"datum": 35202498}, "y": {"datum": 207, "type": "quantitative"}}}
    ]},
    {"layer": [
      {"data": {"name": "ideo"}, "transform": [{"filter": "datum.stain === 'gneg'"}], "mark": {"type": "rect", "color": "white"}, "encoding": {"x": {"field": "s", "type": "quantitative", "scale": {"domain": [0, 95], "range": [10, 584], "nice": false, "zero": false}, "axis": null}, "x2": {"field": "e"}, "y": {"datum": 17, "type": "quantitative", "scale": {"domain": [0, 220], "reverse": true, "nice": false, "zero": false}, "axis": null}, "y2": {"datum": 25}}},
      {"data": {"name": "ideo"}, "transform": [{"filter": "datum.stain === 'gpos25'"}], "mark": {"type": "rect", "color": "#ABABAB"}, "encoding": {"x": {"field": "s", "type": "quantitative"}, "x2": {"field": "e"}, "y": {"datum": 17, "type": "quantitative"}, "y2": {"datum": 25}}},
      {"data": {"name": "ideo"}, "transform": [{"filter": "datum.stain === 'gpos75'"}], "mark": {"type": "rect", "color": "#646464"}, "encoding": {"x": {"field": "s", "type": "quantitative"}, "x2": {"field": "e"}, "y": {"datum": 17, "type": "quantitative"}, "y2": {"datum": 25}}},
      {"data": {"name": "ideo"}, "transform": [{"filter": "datum.stain === 'gpos100'"}], "mark": {"type": "rect", "color": "#000000"}, "encoding": {"x": {"field": "s", "type": "quantitative"}, "x2": {"field": "e"}, "y": {"datum": 17, "type": "quantitative"}, "y2": {"datum": 25}}},
      {"data": {"name": "one"}, "mark": {"type": "rect", "fill": "transparent", "stroke": "#000000", "strokeWidth": 0.8}, "encoding": {"x": {"datum": 0, "type": "quantitative"}, "x2": {"datum": 95}, "y": {"datum": 17, "type": "quantitative"}, "y2": {"datum": 25}}},
      {"data": {"name": "one"}, "mark": {"type": "rect", "color": "#FF1010"}, "encoding": {"x": {"datum": 45.3, "type": "quantitative"}, "x2": {"datum": 45.9}, "y": {"datum": 15, "type": "quantitative"}, "y2": {"datum": 27}}},
      {"data": {"name": "ideo"}, "transform": [{"filter": "indexof(['qA3.1','qB3','qE1.3'], datum.band) < 0"}, {"calculate": "(datum.s + datum.e) / 2", "as": "m"}], "mark": {"type": "text", "fontSize": 7.5, "color": "#333333"}, "encoding": {"x": {"field": "m", "type": "quantitative"}, "y": {"datum": 31, "type": "quantitative"}, "text": {"field": "band"}}}
    ]},
    {"layer": [
      {"data": {"name": "dgenes"}, "layer": [
        {"transform": [{"filter": "datum.k === 'line'"}], "mark": {"type": "rule", "color": "#3838B8", "strokeWidth": 1}, "encoding": {"x": {"field": "s", "type": "quantitative", "scale": {"domain": [35197280, 35202498], "nice": false, "zero": false}, "axis": null}, "x2": {"field": "e"}, "y": {"field": "row", "type": "quantitative", "scale": {"domain": [1, 2], "range": [125, 135], "nice": false, "zero": false}, "axis": null}}},
        {"transform": [{"filter": "datum.k === 'exon'"}], "mark": {"type": "rule", "color": "#0000A0", "strokeWidth": 8}, "encoding": {"x": {"field": "s", "type": "quantitative"}, "x2": {"field": "e"}, "y": {"field": "row", "type": "quantitative"}}}
      ]},
      {"data": {"name": "dpeaks"}, "transform": [{"calculate": "(datum.s + datum.e) / 2", "as": "mid"}], "layer": [
        {"mark": {"type": "rule", "color": "#0000A0", "strokeWidth": 9}, "encoding": {"x": {"field": "s", "type": "quantitative"}, "x2": {"field": "e"}, "y": {"datum": 6.9, "type": "quantitative"}}},
        {"mark": {"type": "text", "fontSize": 8.5, "color": "#444444", "dy": 19}, "encoding": {"x": {"field": "mid", "type": "quantitative"}, "y": {"datum": 6.9, "type": "quantitative"}, "text": {"field": "name"}}}
      ]}
    ]}
   ]}
 ], "spacing": 0, "bounds": "flush"},
{"width": 1, "height": 34.5, "data": {"values": []}, "mark": "point"},
{"hconcat": [
  {"width": 308, "height": 1, "data": {"values": []}, "mark": "point"},
  {"vconcat": [
    {"width": 938, "height": 125, "view": {"stroke": "#111111", "strokeWidth": 3, "fill": "#F8F8F8"},
     "resolve": {"scale": {"y": "independent"}},
     "layer": [
      {"layer": [
        {"data": {"name": "one"}, "mark": {"type": "rule", "color": "#8A8A8A", "strokeWidth": 1.5}, "encoding": {"x": {"datum": 308, "type": "quantitative", "scale": {"domain": [308, 1246], "nice": false, "zero": false}, "axis": null}, "x2": {"datum": 1246}, "y": {"datum": 5, "type": "quantitative", "scale": {"domain": [0, 125], "reverse": true, "nice": false, "zero": false},
          "axis": {"values": [35, 72], "labelExpr": "datum.value < 45 ? 'Refseq genes' : 'Tnfaip3'", "labelFontSize": 20, "labelColor": {"condition": {"test": "datum.value > 45", "value": "#2A1A90"}, "value": "#4536B0"}, "labelPadding": 58, "labelFontWeight": {"condition": {"test": "datum.value > 45", "value": "bold"}, "value": "normal"}, "labelFontStyle": {"condition": {"test": "datum.value > 45", "value": "italic"}, "value": "normal"}, "title": null, "domain": false, "ticks": false, "grid": false}}}},
        {"data": {"name": "one"}, "mark": {"type": "point", "shape": "M-1,-0.28L0.15,-0.28L0.15,-0.7L1,0L0.15,0.7L0.15,0.28L-1,0.28Z", "size": 1089, "filled": true, "color": "#3A1E9E", "opacity": 1, "strokeWidth": 0}, "encoding": {"x": {"datum": 272, "type": "quantitative"}, "y": {"datum": 35, "type": "quantitative"}}},
        {"data": {"name": "one"}, "mark": {"type": "point", "shape": "M-1,-0.28L0.15,-0.28L0.15,-0.7L1,0L0.15,0.7L0.15,0.28L-1,0.28Z", "size": 1089, "filled": true, "color": "#3A1E9E", "opacity": 1, "strokeWidth": 0}, "encoding": {"x": {"datum": 272, "type": "quantitative"}, "y": {"datum": 72, "type": "quantitative"}}},
        {"data": {"name": "one"}, "mark": {"type": "rule", "color": "#A8A8A8", "strokeWidth": 1.5}, "encoding": {"x": {"datum": 308, "type": "quantitative"}, "x2": {"datum": 1246}, "y": {"datum": 9, "type": "quantitative"}}},
        {"data": {"name": "one"}, "mark": {"type": "rule", "color": "#9A9A9A", "strokeWidth": 1.5}, "encoding": {"x": {"datum": 308, "type": "quantitative"}, "x2": {"datum": 1246}, "y": {"datum": 13, "type": "quantitative"}}},
        {"data": {"name": "one"}, "mark": {"type": "rule", "color": "#C0C0C0", "strokeWidth": 1}, "encoding": {"x": {"datum": 308, "type": "quantitative"}, "x2": {"datum": 1246}, "y": {"datum": 17, "type": "quantitative"}}},
        {"data": {"name": "one"}, "mark": {"type": "rule", "color": "#DADADA", "strokeWidth": 1.2}, "encoding": {"x": {"datum": 308, "type": "quantitative"}, "x2": {"datum": 1246}, "y": {"datum": 57, "type": "quantitative"}}},
        {"data": {"name": "one"}, "mark": {"type": "rule", "color": "#DADADA", "strokeWidth": 1.2}, "encoding": {"x": {"datum": 308, "type": "quantitative"}, "x2": {"datum": 1246}, "y": {"datum": 98, "type": "quantitative"}}},
        {"data": {"name": "one"}, "mark": {"type": "rule", "color": "#DADADA", "strokeWidth": 1.2}, "encoding": {"x": {"datum": 308, "type": "quantitative"}, "x2": {"datum": 1246}, "y": {"datum": 115, "type": "quantitative"}}}
      ]},
      {"layer": [
        {"data": {"name": "egenes"}, "transform": [{"filter": "datum.g === 'Tnfaip3'"}], "layer": [
          {"transform": [{"filter": "datum.k === 'line'"}], "mark": {"type": "rule", "color": "#3838B8", "strokeWidth": 1}, "encoding": {"x": {"field": "s", "type": "quantitative", "scale": {"domain": [308, 1246], "nice": false, "zero": false}, "axis": null}, "x2": {"field": "e"}, "y": {"field": "row", "type": "quantitative", "scale": {"domain": [1, 3], "range": [29, 52], "nice": false, "zero": false}, "axis": null}}},
          {"transform": [{"filter": "datum.k === 'exon'"}], "mark": {"type": "rule", "color": "#0000A0", "strokeWidth": 7}, "encoding": {"x": {"field": "s", "type": "quantitative"}, "x2": {"field": "e"}, "y": {"field": "row", "type": "quantitative"}}},
          {"transform": [{"filter": "datum.k === 'utr'"}], "mark": {"type": "rule", "color": "#0000A0", "strokeWidth": 5}, "encoding": {"x": {"field": "s", "type": "quantitative"}, "x2": {"field": "e"}, "y": {"field": "row", "type": "quantitative"}}}
        ]},
        {"data": {"name": "epeaks"}, "transform": [{"filter": "datum.g === 'Tnfaip3'"}, {"calculate": "(datum.s + datum.e) / 2", "as": "mid"}], "layer": [
          {"mark": {"type": "rule", "color": "#0000A0", "strokeWidth": 9}, "encoding": {"x": {"field": "s", "type": "quantitative"}, "x2": {"field": "e"}, "y": {"datum": 4.5, "type": "quantitative"}}},
          {"mark": {"type": "text", "fontSize": 10, "color": "#333333", "dy": 22}, "encoding": {"x": {"field": "mid", "type": "quantitative"}, "y": {"datum": 4.5, "type": "quantitative"}, "text": {"field": "name"}}},
          {"transform": [{"filter": "datum.at === 'e'"}], "mark": {"type": "text", "text": "*", "fontSize": 24, "fontWeight": "bold", "dx": 8, "dy": -2}, "encoding": {"x": {"field": "e", "type": "quantitative"}, "y": {"datum": 4.5, "type": "quantitative"}, "color": {"condition": {"test": "datum.tag === 'g'", "value": "#1DB262"}, "value": "#E8222A"}}}
        ]}
      ]},
      {"data": {"values": [{"t": "E"}]}, "mark": {"type": "text", "fontSize": 23, "fontWeight": "bold", "color": "black", "dx": -729, "dy": -97.5}, "encoding": {"text": {"field": "t"}}}
     ]},
    {"width": 938, "height": 107, "view": {"stroke": "#111111", "strokeWidth": 3, "fill": "#F8F8F8"},
     "resolve": {"scale": {"y": "independent"}},
     "layer": [
      {"layer": [
        {"data": {"name": "one"}, "mark": {"type": "rule", "color": "#999999", "strokeWidth": 1.5}, "encoding": {"x": {"datum": 308, "type": "quantitative", "scale": {"domain": [308, 1246], "nice": false, "zero": false}, "axis": null}, "x2": {"datum": 1246}, "y": {"datum": 4, "type": "quantitative", "scale": {"domain": [0, 107], "reverse": true, "nice": false, "zero": false},
          "axis": {"values": [22, 60], "labelExpr": "datum.value < 45 ? 'Refseq genes' : 'Nfkbia'", "labelFontSize": 20, "labelColor": {"condition": {"test": "datum.value > 45", "value": "#2A1A90"}, "value": "#4536B0"}, "labelPadding": 58, "labelFontWeight": {"condition": {"test": "datum.value > 45", "value": "bold"}, "value": "normal"}, "labelFontStyle": {"condition": {"test": "datum.value > 45", "value": "italic"}, "value": "normal"}, "title": null, "domain": false, "ticks": false, "grid": false}}}},
        {"data": {"name": "one"}, "mark": {"type": "point", "shape": "M-1,-0.28L0.15,-0.28L0.15,-0.7L1,0L0.15,0.7L0.15,0.28L-1,0.28Z", "size": 1089, "filled": true, "color": "#3A1E9E", "opacity": 1, "strokeWidth": 0}, "encoding": {"x": {"datum": 272, "type": "quantitative"}, "y": {"datum": 22, "type": "quantitative"}}},
        {"data": {"name": "one"}, "mark": {"type": "point", "shape": "M-1,-0.28L0.15,-0.28L0.15,-0.7L1,0L0.15,0.7L0.15,0.28L-1,0.28Z", "size": 1089, "filled": true, "color": "#3A1E9E", "opacity": 1, "strokeWidth": 0}, "encoding": {"x": {"datum": 272, "type": "quantitative"}, "y": {"datum": 60, "type": "quantitative"}}},
        {"data": {"name": "one"}, "mark": {"type": "rule", "color": "#AAAAAA", "strokeWidth": 1.5}, "encoding": {"x": {"datum": 308, "type": "quantitative"}, "x2": {"datum": 1246}, "y": {"datum": 8, "type": "quantitative"}}},
        {"data": {"name": "one"}, "mark": {"type": "rule", "color": "#C0C0C0", "strokeWidth": 1}, "encoding": {"x": {"datum": 308, "type": "quantitative"}, "x2": {"datum": 1246}, "y": {"datum": 11, "type": "quantitative"}}},
        {"data": {"name": "one"}, "mark": {"type": "rule", "color": "#DADADA", "strokeWidth": 1.2}, "encoding": {"x": {"datum": 308, "type": "quantitative"}, "x2": {"datum": 1246}, "y": {"datum": 46, "type": "quantitative"}}},
        {"data": {"name": "one"}, "mark": {"type": "rule", "color": "#DADADA", "strokeWidth": 1.2}, "encoding": {"x": {"datum": 308, "type": "quantitative"}, "x2": {"datum": 1246}, "y": {"datum": 86, "type": "quantitative"}}}
      ]},
      {"layer": [
        {"data": {"name": "egenes"}, "transform": [{"filter": "datum.g === 'Nfkbia'"}], "layer": [
          {"transform": [{"filter": "datum.k === 'line'"}], "mark": {"type": "rule", "color": "#3838B8", "strokeWidth": 1}, "encoding": {"x": {"field": "s", "type": "quantitative", "scale": {"domain": [308, 1246], "nice": false, "zero": false}, "axis": null}, "x2": {"field": "e"}, "y": {"field": "row", "type": "quantitative", "scale": {"domain": [1, 3], "range": [23, 46], "nice": false, "zero": false}, "axis": null}}},
          {"transform": [{"filter": "datum.k === 'exon'"}], "mark": {"type": "rule", "color": "#0000A0", "strokeWidth": 7}, "encoding": {"x": {"field": "s", "type": "quantitative"}, "x2": {"field": "e"}, "y": {"field": "row", "type": "quantitative"}}}
        ]},
        {"data": {"name": "epeaks"}, "transform": [{"filter": "datum.g === 'Nfkbia'"}, {"calculate": "(datum.s + datum.e) / 2", "as": "mid"}], "layer": [
          {"mark": {"type": "rule", "color": "#0000A0", "strokeWidth": 9}, "encoding": {"x": {"field": "s", "type": "quantitative"}, "x2": {"field": "e"}, "y": {"datum": 4, "type": "quantitative"}}},
          {"mark": {"type": "text", "fontSize": 10, "color": "#333333", "dy": 22}, "encoding": {"x": {"field": "mid", "type": "quantitative"}, "y": {"datum": 4, "type": "quantitative"}, "text": {"field": "name"}}},
          {"transform": [{"filter": "datum.at === 'e'"}], "mark": {"type": "text", "text": "*", "fontSize": 24, "fontWeight": "bold", "dx": 8, "dy": -4}, "encoding": {"x": {"field": "e", "type": "quantitative"}, "y": {"datum": 4, "type": "quantitative"}, "color": {"condition": {"test": "datum.tag === 'g'", "value": "#1DB262"}, "value": "#E8222A"}}}
        ]}
      ]}
     ]},
    {"width": 938, "height": 128, "view": {"stroke": "#111111", "strokeWidth": 3, "fill": "#F8F8F8"},
     "resolve": {"scale": {"y": "independent"}},
     "layer": [
      {"layer": [
        {"data": {"name": "one"}, "mark": {"type": "rule", "color": "#999999", "strokeWidth": 1.5}, "encoding": {"x": {"datum": 308, "type": "quantitative", "scale": {"domain": [308, 1246], "nice": false, "zero": false}, "axis": null}, "x2": {"datum": 1246}, "y": {"datum": 4, "type": "quantitative", "scale": {"domain": [0, 128], "reverse": true, "nice": false, "zero": false},
          "axis": {"values": [29, 90], "labelExpr": "datum.value < 45 ? 'Refseq genes' : 'Nfkbiz'", "labelFontSize": 20, "labelColor": {"condition": {"test": "datum.value > 45", "value": "#2A1A90"}, "value": "#4536B0"}, "labelPadding": 58, "labelFontWeight": {"condition": {"test": "datum.value > 45", "value": "bold"}, "value": "normal"}, "labelFontStyle": {"condition": {"test": "datum.value > 45", "value": "italic"}, "value": "normal"}, "title": null, "domain": false, "ticks": false, "grid": false}}}},
        {"data": {"name": "one"}, "mark": {"type": "point", "shape": "M-1,-0.28L0.15,-0.28L0.15,-0.7L1,0L0.15,0.7L0.15,0.28L-1,0.28Z", "size": 1089, "filled": true, "color": "#3A1E9E", "opacity": 1, "strokeWidth": 0}, "encoding": {"x": {"datum": 272, "type": "quantitative"}, "y": {"datum": 29, "type": "quantitative"}}},
        {"data": {"name": "one"}, "mark": {"type": "point", "shape": "M-1,-0.28L0.15,-0.28L0.15,-0.7L1,0L0.15,0.7L0.15,0.28L-1,0.28Z", "size": 1089, "filled": true, "color": "#3A1E9E", "opacity": 1, "strokeWidth": 0}, "encoding": {"x": {"datum": 272, "type": "quantitative"}, "y": {"datum": 90, "type": "quantitative"}}},
        {"data": {"name": "one"}, "mark": {"type": "rule", "color": "#B5B5B5", "strokeWidth": 1.5}, "encoding": {"x": {"datum": 308, "type": "quantitative"}, "x2": {"datum": 1246}, "y": {"datum": 8, "type": "quantitative"}}},
        {"data": {"name": "one"}, "mark": {"type": "rule", "color": "#DADADA", "strokeWidth": 1.2}, "encoding": {"x": {"datum": 308, "type": "quantitative"}, "x2": {"datum": 1246}, "y": {"datum": 79, "type": "quantitative"}}},
        {"data": {"name": "one"}, "mark": {"type": "rule", "color": "#DADADA", "strokeWidth": 1.2}, "encoding": {"x": {"datum": 308, "type": "quantitative"}, "x2": {"datum": 1246}, "y": {"datum": 115, "type": "quantitative"}}}
      ]},
      {"layer": [
        {"data": {"name": "egenes"}, "transform": [{"filter": "datum.g === 'Nfkbiz'"}], "layer": [
          {"transform": [{"filter": "datum.k === 'line'"}], "mark": {"type": "rule", "color": "#3838B8", "strokeWidth": 1}, "encoding": {"x": {"field": "s", "type": "quantitative", "scale": {"domain": [308, 1246], "nice": false, "zero": false}, "axis": null}, "x2": {"field": "e"}, "y": {"field": "row", "type": "quantitative", "scale": {"domain": [1, 3], "range": [20, 41], "nice": false, "zero": false}, "axis": null}}},
          {"transform": [{"filter": "datum.k === 'exon'"}], "mark": {"type": "rule", "color": "#0000A0", "strokeWidth": 7}, "encoding": {"x": {"field": "s", "type": "quantitative"}, "x2": {"field": "e"}, "y": {"field": "row", "type": "quantitative"}}}
        ]},
        {"data": {"name": "epeaks"}, "transform": [{"filter": "datum.g === 'Nfkbiz'"}, {"calculate": "(datum.s + datum.e) / 2", "as": "mid"}], "layer": [
          {"mark": {"type": "rule", "color": "#0000A0", "strokeWidth": 9}, "encoding": {"x": {"field": "s", "type": "quantitative"}, "x2": {"field": "e"}, "y": {"datum": 7.57, "type": "quantitative"}}},
          {"mark": {"type": "text", "fontSize": 10, "color": "#333333", "dy": 20}, "encoding": {"x": {"field": "mid", "type": "quantitative"}, "y": {"datum": 7.57, "type": "quantitative"}, "text": {"field": "name"}}},
          {"transform": [{"filter": "datum.at === 'e'"}], "mark": {"type": "text", "text": "*", "fontSize": 24, "fontWeight": "bold", "dx": 9, "dy": -4}, "encoding": {"x": {"field": "e", "type": "quantitative"}, "y": {"datum": 7.57, "type": "quantitative"}, "color": {"condition": {"test": "datum.tag === 'g'", "value": "#1DB262"}, "value": "#E8222A"}}}
        ]}
      ]}
     ]},
    {"width": 938, "height": 114, "view": {"stroke": "#111111", "strokeWidth": 3, "fill": "#F8F8F8"},
     "resolve": {"scale": {"y": "independent"}},
     "layer": [
      {"layer": [
        {"data": {"name": "one"}, "mark": {"type": "rule", "color": "#999999", "strokeWidth": 1.5}, "encoding": {"x": {"datum": 308, "type": "quantitative", "scale": {"domain": [308, 1246], "nice": false, "zero": false}, "axis": null}, "x2": {"datum": 1246}, "y": {"datum": 5, "type": "quantitative", "scale": {"domain": [0, 114], "reverse": true, "nice": false, "zero": false},
          "axis": {"values": [27, 62], "labelExpr": "datum.value < 45 ? 'Refseq genes' : 'Irf1'", "labelFontSize": 20, "labelColor": {"condition": {"test": "datum.value > 45", "value": "#2A1A90"}, "value": "#4536B0"}, "labelPadding": 58, "labelFontWeight": {"condition": {"test": "datum.value > 45", "value": "bold"}, "value": "normal"}, "labelFontStyle": {"condition": {"test": "datum.value > 45", "value": "italic"}, "value": "normal"}, "title": null, "domain": false, "ticks": false, "grid": false}}}},
        {"data": {"name": "one"}, "mark": {"type": "point", "shape": "M-1,-0.28L0.15,-0.28L0.15,-0.7L1,0L0.15,0.7L0.15,0.28L-1,0.28Z", "size": 1089, "filled": true, "color": "#3A1E9E", "opacity": 1, "strokeWidth": 0}, "encoding": {"x": {"datum": 272, "type": "quantitative"}, "y": {"datum": 27, "type": "quantitative"}}},
        {"data": {"name": "one"}, "mark": {"type": "point", "shape": "M-1,-0.28L0.15,-0.28L0.15,-0.7L1,0L0.15,0.7L0.15,0.28L-1,0.28Z", "size": 1089, "filled": true, "color": "#3A1E9E", "opacity": 1, "strokeWidth": 0}, "encoding": {"x": {"datum": 272, "type": "quantitative"}, "y": {"datum": 62, "type": "quantitative"}}},
        {"data": {"name": "one"}, "mark": {"type": "rule", "color": "#DADADA", "strokeWidth": 1.2}, "encoding": {"x": {"datum": 308, "type": "quantitative"}, "x2": {"datum": 1246}, "y": {"datum": 46, "type": "quantitative"}}},
        {"data": {"name": "one"}, "mark": {"type": "rect", "color": "#E6E6E6"}, "encoding": {"x": {"datum": 308, "type": "quantitative"}, "x2": {"datum": 1246}, "y": {"datum": 50, "type": "quantitative"}, "y2": {"datum": 86}}},
        {"data": {"name": "one"}, "mark": {"type": "rule", "color": "#999999", "strokeWidth": 1}, "encoding": {"x": {"datum": 308, "type": "quantitative"}, "x2": {"datum": 1246}, "y": {"datum": 101, "type": "quantitative"}}}
      ]},
      {"layer": [
        {"data": {"name": "egenes"}, "transform": [{"filter": "datum.g === 'Irf1'"}], "layer": [
          {"transform": [{"filter": "datum.k === 'line'"}], "mark": {"type": "rule", "color": "#3838B8", "strokeWidth": 1}, "encoding": {"x": {"field": "s", "type": "quantitative", "scale": {"domain": [308, 1246], "nice": false, "zero": false}, "axis": null}, "x2": {"field": "e"}, "y": {"field": "row", "type": "quantitative", "scale": {"domain": [1, 3], "range": [16, 40], "nice": false, "zero": false}, "axis": null}}},
          {"transform": [{"filter": "datum.k === 'exon'"}], "mark": {"type": "rule", "color": "#0000A0", "strokeWidth": 7}, "encoding": {"x": {"field": "s", "type": "quantitative"}, "x2": {"field": "e"}, "y": {"field": "row", "type": "quantitative"}}},
          {"transform": [{"filter": "datum.k === 'utr'"}], "mark": {"type": "rule", "color": "#0000A0", "strokeWidth": 5}, "encoding": {"x": {"field": "s", "type": "quantitative"}, "x2": {"field": "e"}, "y": {"field": "row", "type": "quantitative"}}}
        ]},
        {"data": {"name": "epeaks"}, "transform": [{"filter": "datum.g === 'Irf1'"}, {"calculate": "(datum.s + datum.e) / 2", "as": "mid"}], "layer": [
          {"mark": {"type": "rule", "color": "#0000A0", "strokeWidth": 9}, "encoding": {"x": {"field": "s", "type": "quantitative"}, "x2": {"field": "e"}, "y": {"datum": 4.42, "type": "quantitative"}}},
          {"mark": {"type": "text", "fontSize": 10, "color": "#333333", "dy": 22}, "encoding": {"x": {"field": "mid", "type": "quantitative"}, "y": {"datum": 4.42, "type": "quantitative"}, "text": {"field": "name"}}},
          {"transform": [{"filter": "datum.at === 's'"}], "mark": {"type": "text", "text": "*", "fontSize": 24, "fontWeight": "bold", "dx": -6, "dy": -3}, "encoding": {"x": {"field": "s", "type": "quantitative"}, "y": {"datum": 4.42, "type": "quantitative"}, "color": {"condition": {"test": "datum.tag === 'g'", "value": "#1DB262"}, "value": "#E8222A"}}}
        ]}
      ]}
     ]},
    {"width": 938, "height": 91, "view": {"stroke": "#111111", "strokeWidth": 3, "fill": "#F8F8F8"},
     "resolve": {"scale": {"y": "independent"}},
     "layer": [
      {"layer": [
        {"data": {"name": "one"}, "mark": {"type": "rule", "color": "#999999", "strokeWidth": 1.5}, "encoding": {"x": {"datum": 308, "type": "quantitative", "scale": {"domain": [308, 1246], "nice": false, "zero": false}, "axis": null}, "x2": {"datum": 1246}, "y": {"datum": 5, "type": "quantitative", "scale": {"domain": [0, 91], "reverse": true, "nice": false, "zero": false},
          "axis": {"values": [28, 62], "labelExpr": "datum.value < 45 ? 'Refseq genes' : 'Ccl20'", "labelFontSize": 20, "labelColor": {"condition": {"test": "datum.value > 45", "value": "#2A1A90"}, "value": "#4536B0"}, "labelPadding": 58, "labelFontWeight": {"condition": {"test": "datum.value > 45", "value": "bold"}, "value": "normal"}, "labelFontStyle": {"condition": {"test": "datum.value > 45", "value": "italic"}, "value": "normal"}, "title": null, "domain": false, "ticks": false, "grid": false}}}},
        {"data": {"name": "one"}, "mark": {"type": "point", "shape": "M-1,-0.28L0.15,-0.28L0.15,-0.7L1,0L0.15,0.7L0.15,0.28L-1,0.28Z", "size": 1089, "filled": true, "color": "#3A1E9E", "opacity": 1, "strokeWidth": 0}, "encoding": {"x": {"datum": 272, "type": "quantitative"}, "y": {"datum": 28, "type": "quantitative"}}},
        {"data": {"name": "one"}, "mark": {"type": "point", "shape": "M-1,-0.28L0.15,-0.28L0.15,-0.7L1,0L0.15,0.7L0.15,0.28L-1,0.28Z", "size": 1089, "filled": true, "color": "#3A1E9E", "opacity": 1, "strokeWidth": 0}, "encoding": {"x": {"datum": 272, "type": "quantitative"}, "y": {"datum": 62, "type": "quantitative"}}},
        {"data": {"name": "one"}, "mark": {"type": "rule", "color": "#B5B5B5", "strokeWidth": 1.5}, "encoding": {"x": {"datum": 308, "type": "quantitative"}, "x2": {"datum": 1246}, "y": {"datum": 9, "type": "quantitative"}}},
        {"data": {"name": "one"}, "mark": {"type": "rule", "color": "#DADADA", "strokeWidth": 1.2}, "encoding": {"x": {"datum": 308, "type": "quantitative"}, "x2": {"datum": 1246}, "y": {"datum": 45, "type": "quantitative"}}},
        {"data": {"name": "one"}, "mark": {"type": "rect", "color": "#E6E6E6"}, "encoding": {"x": {"datum": 308, "type": "quantitative"}, "x2": {"datum": 1246}, "y": {"datum": 50, "type": "quantitative"}, "y2": {"datum": 85}}}
      ]},
      {"layer": [
        {"data": {"name": "egenes"}, "transform": [{"filter": "datum.g === 'Ccl20'"}], "layer": [
          {"transform": [{"filter": "datum.k === 'line'"}], "mark": {"type": "rule", "color": "#3838B8", "strokeWidth": 1}, "encoding": {"x": {"field": "s", "type": "quantitative", "scale": {"domain": [308, 1246], "nice": false, "zero": false}, "axis": null}, "x2": {"field": "e"}, "y": {"field": "row", "type": "quantitative", "scale": {"domain": [1, 2], "range": [22, 34], "nice": false, "zero": false}, "axis": null}}},
          {"transform": [{"filter": "datum.k === 'exon'"}], "mark": {"type": "rule", "color": "#0000A0", "strokeWidth": 7}, "encoding": {"x": {"field": "s", "type": "quantitative"}, "x2": {"field": "e"}, "y": {"field": "row", "type": "quantitative"}}}
        ]},
        {"data": {"name": "epeaks"}, "transform": [{"filter": "datum.g === 'Ccl20'"}, {"calculate": "(datum.s + datum.e) / 2", "as": "mid"}], "layer": [
          {"mark": {"type": "rule", "color": "#0000A0", "strokeWidth": 9}, "encoding": {"x": {"field": "s", "type": "quantitative"}, "x2": {"field": "e"}, "y": {"datum": 3.92, "type": "quantitative"}}},
          {"mark": {"type": "text", "fontSize": 10, "color": "#333333", "dy": 21}, "encoding": {"x": {"field": "mid", "type": "quantitative"}, "y": {"datum": 3.92, "type": "quantitative"}, "text": {"field": "name"}}},
          {"transform": [{"filter": "datum.at === 's'"}], "mark": {"type": "text", "text": "*", "fontSize": 24, "fontWeight": "bold", "dx": -8, "dy": -7}, "encoding": {"x": {"field": "s", "type": "quantitative"}, "y": {"datum": 3.92, "type": "quantitative"}, "color": {"condition": {"test": "datum.tag === 'g'", "value": "#1DB262"}, "value": "#E8222A"}}}
        ]}
      ]}
     ]}
  ], "spacing": 0, "bounds": "flush"}
 ], "spacing": 0, "bounds": "flush"}
]
}
